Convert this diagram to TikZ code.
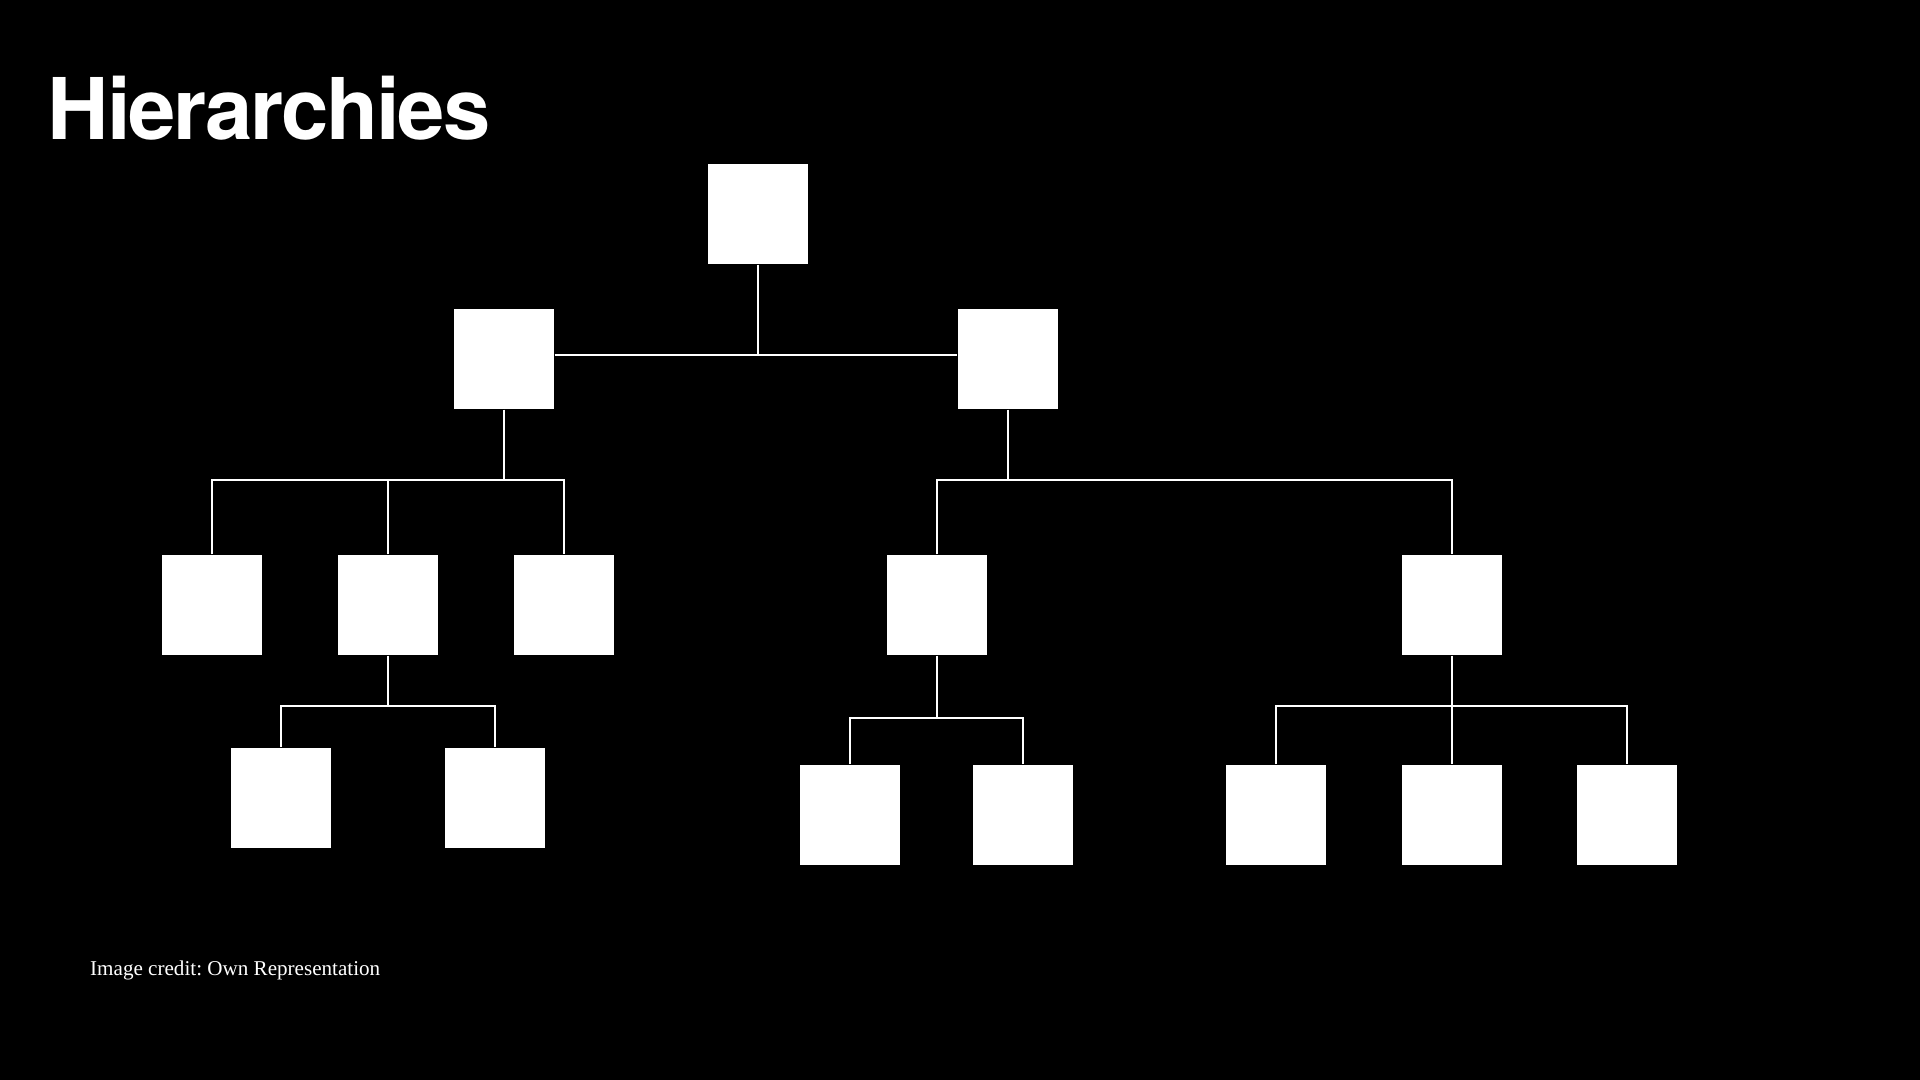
\documentclass[tikz,border=0pt]{standalone}
\usepackage{fontspec}
\setmainfont{Liberation Serif}
\newfontfamily\headfont[LetterSpace=-2.5]{TeX Gyre Heros}
\frenchspacing

\begin{document}
\begin{tikzpicture}[x=0.01cm,y=-0.01cm,
  box/.style={fill=white,inner sep=0pt,minimum size=1cm},
  link/.style={draw=white,line width=0.4pt}]

  \fill[black] (0,0) rectangle (1920,1080); % background

  \node[anchor=base west,inner sep=0pt,text=white,font=\headfont\fontsize{24.2}{29}\selectfont\bfseries] (title) at (47,140) {Hierarchies};

  % top
  \node[box] (top) at (758,214) {};
  % second level
  \node[box] (left) at (504,359) {};
  \node[box] (right) at (1008,359) {};
  % third level
  \node[box] (la) at (212,605) {};
  \node[box] (lb) at (388,605) {};
  \node[box] (lc) at (564,605) {};
  \node[box] (ra) at (937,605) {};
  \node[box] (rb) at (1452,605) {};
  % fourth level
  \node[box] (lba) at (281,798) {};
  \node[box] (lbb) at (495,798) {};
  \node[box] (raa) at (850,815) {};
  \node[box] (rab) at (1023,815) {};
  \node[box] (rba) at (1276,815) {};
  \node[box] (rbb) at (1452,815) {};
  \node[box] (rbc) at (1627,815) {};

  % bar heights
  \coordinate (j0) at (0,355);
  \coordinate (j1) at (0,480);
  \coordinate (j2) at (0,706);
  \coordinate (j3) at (0,718);

  \draw[link] (top) -- (top |- j0);
  \draw[link] (left.east |- j0) -- (right.west |- j0);

  \draw[link] (left) -- (left |- j1);
  \draw[link] (la) -- (la |- j1) -- (lc |- j1) -- (lc);
  \draw[link] (lb) -- (lb |- j1);

  \draw[link] (right) -- (right |- j1);
  \draw[link] (ra) -- (ra |- j1) -- (rb |- j1) -- (rb);

  \draw[link] (lb) -- (lb |- j2);
  \draw[link] (lba) -- (lba |- j2) -- (lbb |- j2) -- (lbb);

  \draw[link] (ra) -- (ra |- j3);
  \draw[link] (raa) -- (raa |- j3) -- (rab |- j3) -- (rab);

  \draw[link] (rb) -- (rbb);
  \draw[link] (rba) -- (rba |- j2) -- (rbc |- j2) -- (rbc);

  \node[anchor=base west,inner sep=0pt,text=white,font=\fontsize{6}{7}\selectfont] (credit) at (89.5,976) {Image credit: Own Representation};

\end{tikzpicture}
\end{document}
